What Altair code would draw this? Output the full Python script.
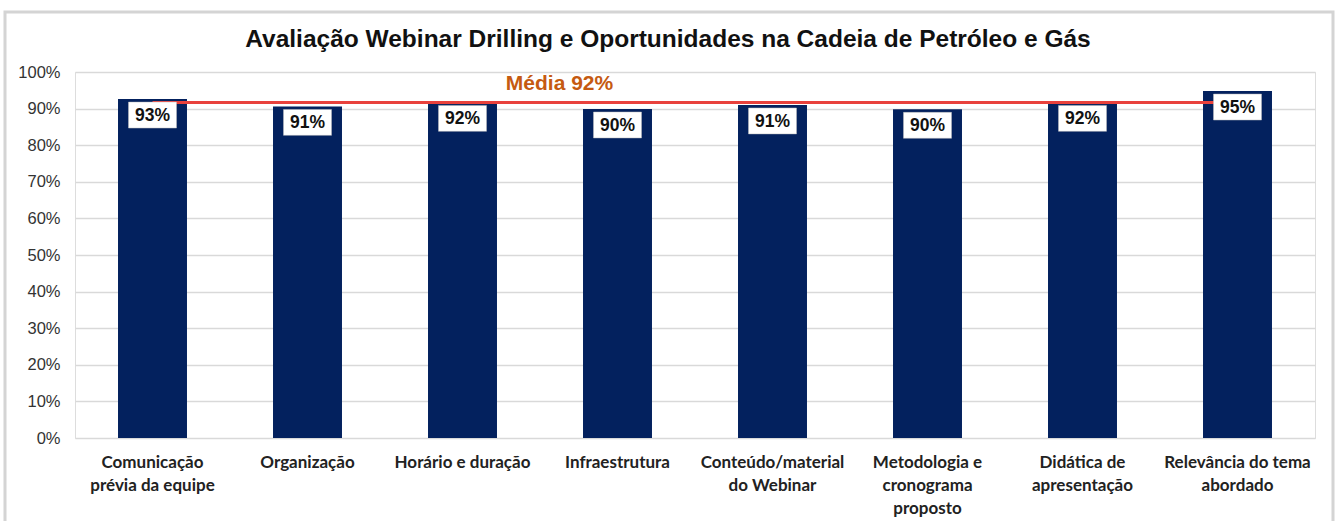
import altair as alt
import pandas as pd

categories = [
    "Comunicação\nprévia da equipe",
    "Organização",
    "Horário e duração",
    "Infraestrutura",
    "Conteúdo/material\ndo Webinar",
    "Metodologia e\ncronograma\nproposto",
    "Didática de\napresentação",
    "Relevância do tema\nabordado",
]
values = [0.926, 0.906, 0.917, 0.899, 0.910, 0.898, 0.917, 0.948]
mean_value = 0.917
mean_label = "Média 92%"
title_text = "Avaliação Webinar Drilling e Oportunidades na Cadeia de Petróleo e Gás"
y_ticks = [0, 0.1, 0.2, 0.3, 0.4, 0.5, 0.6, 0.7, 0.8, 0.9, 1.0]

df = pd.DataFrame({"cat": categories, "val": values})
mean_df = pd.DataFrame({"x1": [categories[0]], "x2": [categories[-1]], "val": [mean_value],
                        "lab": [mean_label], "xl": [categories[2]]})

W, H = 1240, 366
xscale = alt.Scale(domain=categories, paddingInner=0.555, paddingOuter=0.2775)
yscale = alt.Scale(domain=[0, 1], nice=False)

x_axis = alt.Axis(labelExpr="split(datum.label, '\\n')", labelAngle=0,
                  labelFont="Lato", labelFontWeight="bold", labelFontSize=17,
                  labelColor="#222222", labelLineHeight=23, labelPadding=16,
                  ticks=False, domain=False, labelBaseline="top")
y_axis = alt.Axis(format=".0%", values=y_ticks, labelFont="Liberation Sans",
                  labelFontSize=16.5, labelColor="#333333", labelPadding=15,
                  ticks=False, domain=False, grid=True, gridColor="#d9d9d9",
                  gridWidth=1.5, labelOverlap=False, tickCount=11)


def X(field):
    return alt.X(f"{field}:N", scale=xscale, sort=categories, title=None, axis=x_axis)


def Y():
    return alt.Y("val:Q", scale=yscale, title=None, axis=y_axis)


frame = alt.Chart(pd.DataFrame({"a": [0]})).mark_rect(
    fill=None, stroke="#d4d4d4", strokeWidth=3
).encode(x=alt.value(-70), x2=alt.value(1258), y=alt.value(-60), y2=alt.value(460))

title = alt.Chart(pd.DataFrame({"t": [title_text]})).mark_text(
    font="Liberation Sans", fontSize=24.5, fontWeight="bold", color="#111111",
    align="center", baseline="middle"
).encode(x=alt.value(593), y=alt.value(-32), text="t:N")

bars = alt.Chart(df).mark_bar(color="#03215e").encode(x=X("cat"), y=Y())

rule = alt.Chart(mean_df).mark_rule(color="#e8413c", strokeWidth=3).encode(
    x=X("x1"), x2="x2:N", y=Y(),
)

mean_text = alt.Chart(mean_df).mark_text(
    color="#c55a11", fontWeight="bold", fontSize=21, font="Liberation Sans",
    dx=97, dy=-18, baseline="middle"
).encode(x=X("xl"), y=Y(), text="lab:N")

boxes = alt.Chart(df).mark_point(
    shape="M-1,-0.54H1V0.54H-1Z", size=48 * 48, filled=True, fill="white", opacity=1,
    stroke="#bfbfbf", strokeWidth=0.5, yOffset=16
).encode(x=X("cat"), y=Y())

labels = alt.Chart(df).mark_text(
    fontWeight="bold", fontSize=17.5, font="Liberation Sans", color="#111111",
    dy=17, baseline="middle"
).encode(x=X("cat"), y=Y(), text=alt.Text("val:Q", format=".0%"))

chart = alt.layer(frame, title, bars, rule, mean_text, boxes, labels).properties(
    width=W, height=H,
    autosize=alt.AutoSizeParams(type="none"),
    padding={"left": 75, "top": 72, "right": 22, "bottom": 83},
).configure_view(stroke=None).configure(background="white")

chart.save("out.html", embed_options={"renderer": "svg", "actions": False})
